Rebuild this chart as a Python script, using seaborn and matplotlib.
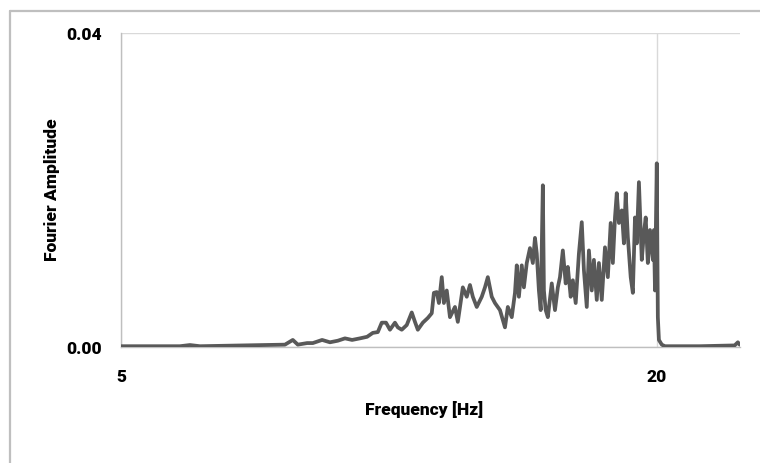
"""Fourier amplitude spectrum, Excel-style single line chart."""

import matplotlib.pyplot as plt
from matplotlib.lines import Line2D
import pandas as pd
import seaborn as sns

# values
freq_hz = [
    5.00, 5.53, 6.09, 6.65, 6.93, 7.21, 7.77, 8.33, 8.89, 9.31, 9.59, 9.81,
    9.95, 10.21, 10.37, 10.63, 10.85, 11.07, 11.27, 11.47, 11.69, 11.89, 12.05,
    12.19, 12.30, 12.42, 12.53, 12.67, 12.75, 12.86, 13.00, 13.14, 13.23, 13.31,
    13.45, 13.59, 13.70, 13.76, 13.84, 13.90, 13.98, 14.04, 14.12, 14.21, 14.35,
    14.43, 14.57, 14.68, 14.77, 14.85, 14.96, 15.10, 15.19, 15.27, 15.38, 15.47,
    15.61, 15.75, 15.83, 15.94, 16.03, 16.08, 16.14, 16.22, 16.28, 16.36, 16.45,
    16.53, 16.59, 16.64, 16.70, 16.75, 16.81, 16.84, 16.89, 16.95, 17.06, 17.15,
    17.23, 17.29, 17.37, 17.45, 17.51, 17.59, 17.65, 17.73, 17.82, 17.90, 17.96,
    18.04, 18.10, 18.18, 18.24, 18.32, 18.38, 18.46, 18.55, 18.63, 18.71, 18.77,
    18.83, 18.88, 18.94, 19.02, 19.08, 19.13, 19.19, 19.27, 19.33, 19.39, 19.44,
    19.50, 19.58, 19.64, 19.69, 19.75, 19.81, 19.89, 19.92, 19.95, 20.00, 20.03,
    20.06, 20.14, 20.23, 20.65, 21.20, 21.76, 22.18, 22.27, 22.32,
]
amplitude = [
    0.0001, 0.0001, 0.0001, 0.0001, 0.00025, 0.0001, 0.00015, 0.0002, 0.00025,
    0.0003, 0.0003, 0.0009, 0.0003, 0.0005, 0.0005, 0.0009, 0.0006, 0.0008,
    0.0011, 0.0009, 0.0011, 0.0013, 0.0018, 0.0019, 0.0031, 0.0031, 0.0022,
    0.0031, 0.0025, 0.0022, 0.0028, 0.0044, 0.0032, 0.0022, 0.0031, 0.0037,
    0.0043, 0.0069, 0.0070, 0.0056, 0.0089, 0.0056, 0.0072, 0.0038, 0.0051,
    0.0032, 0.0076, 0.0064, 0.0079, 0.0064, 0.0051, 0.0064, 0.0076, 0.0089,
    0.0064, 0.0056, 0.0047, 0.0025, 0.0051, 0.0038, 0.0069, 0.0104, 0.0064,
    0.0104, 0.0076, 0.0107, 0.0126, 0.0107, 0.0139, 0.0119, 0.0072, 0.0047,
    0.0206, 0.0072, 0.0047, 0.0038, 0.0081, 0.0047, 0.0076, 0.0089, 0.0123,
    0.0081, 0.0102, 0.0064, 0.0085, 0.0056, 0.0119, 0.0159, 0.0098, 0.0051,
    0.0123, 0.0072, 0.0111, 0.0060, 0.0107, 0.0060, 0.0127, 0.0089, 0.0158,
    0.0107, 0.0165, 0.0196, 0.0158, 0.0174, 0.0132, 0.0196, 0.0140, 0.0089,
    0.0069, 0.0165, 0.0132, 0.0210, 0.0111, 0.0145, 0.0165, 0.0107, 0.0149,
    0.0111, 0.0149, 0.0072, 0.0234, 0.0038, 0.0009, 0.0003, 0.0001, 0.0001,
    0.0001, 0.00015, 0.0002, 0.0006, 0.0003,
]
x_ticks = [5, 20]
y_ticks = [0.0, 0.04]

sns.set_theme(style="white")
plt.rcParams["font.family"] = ["Roboto", "DejaVu Sans"]
plt.rcParams["text.color"] = "black"
plt.rcParams["xtick.color"] = "black"
plt.rcParams["ytick.color"] = "black"
plt.rcParams["axes.labelcolor"] = "black"

WEIGHT = "black"

df = pd.DataFrame({"freq": freq_hz, "amp": amplitude})

fig = plt.figure(figsize=(7.6, 4.63), dpi=100)
ax = fig.add_axes([121 / 760, 1 - 347 / 463, 619 / 760, 314 / 463])

sns.lineplot(data=df, x="freq", y="amp", ax=ax, color="#595959",
             linewidth=2.7, sort=False, zorder=3)

ax.set_xlim(5, 22.33)
ax.set_ylim(0, 0.04)
ax.set_xticks(x_ticks)
ax.set_xticklabels([f"{t:g}" for t in x_ticks])
ax.set_yticks(y_ticks)
ax.set_yticklabels([f"{t:.2f}" for t in y_ticks])
ax.tick_params(axis="x", length=0, pad=16, labelsize=12.5)
ax.tick_params(axis="y", length=0, pad=14, labelsize=12.5)
for lab in ax.get_xticklabels() + ax.get_yticklabels():
    lab.set_fontweight(WEIGHT)

ax.grid(True, color="#d9d9d9", linewidth=1)
for side in ["top", "right"]:
    ax.spines[side].set_visible(False)
for side in ["left", "bottom"]:
    ax.spines[side].set_color("#bfbfbf")
    ax.spines[side].set_linewidth(1)

ax.set_xlabel("Frequency [Hz]", fontsize=12.5, fontweight=WEIGHT)
ax.set_ylabel("Fourier Amplitude", fontsize=12.5, fontweight=WEIGHT)
ax.xaxis.set_label_coords(0.49, -0.20)
ax.xaxis.label.set_va("center")
ax.yaxis.set_label_coords(-0.111, 0.5)
ax.yaxis.label.set_va("center")

# outer chart frame (only left and top edges are visible in the crop)
fig.add_artist(Line2D([10 / 760, 10 / 760], [0, 1 - 11 / 463],
                      color="#bfbfbf", linewidth=1.6))
fig.add_artist(Line2D([10 / 760, 1], [1 - 11 / 463, 1 - 11 / 463],
                      color="#bfbfbf", linewidth=1.6))

fig.savefig("out.png", dpi=100)
